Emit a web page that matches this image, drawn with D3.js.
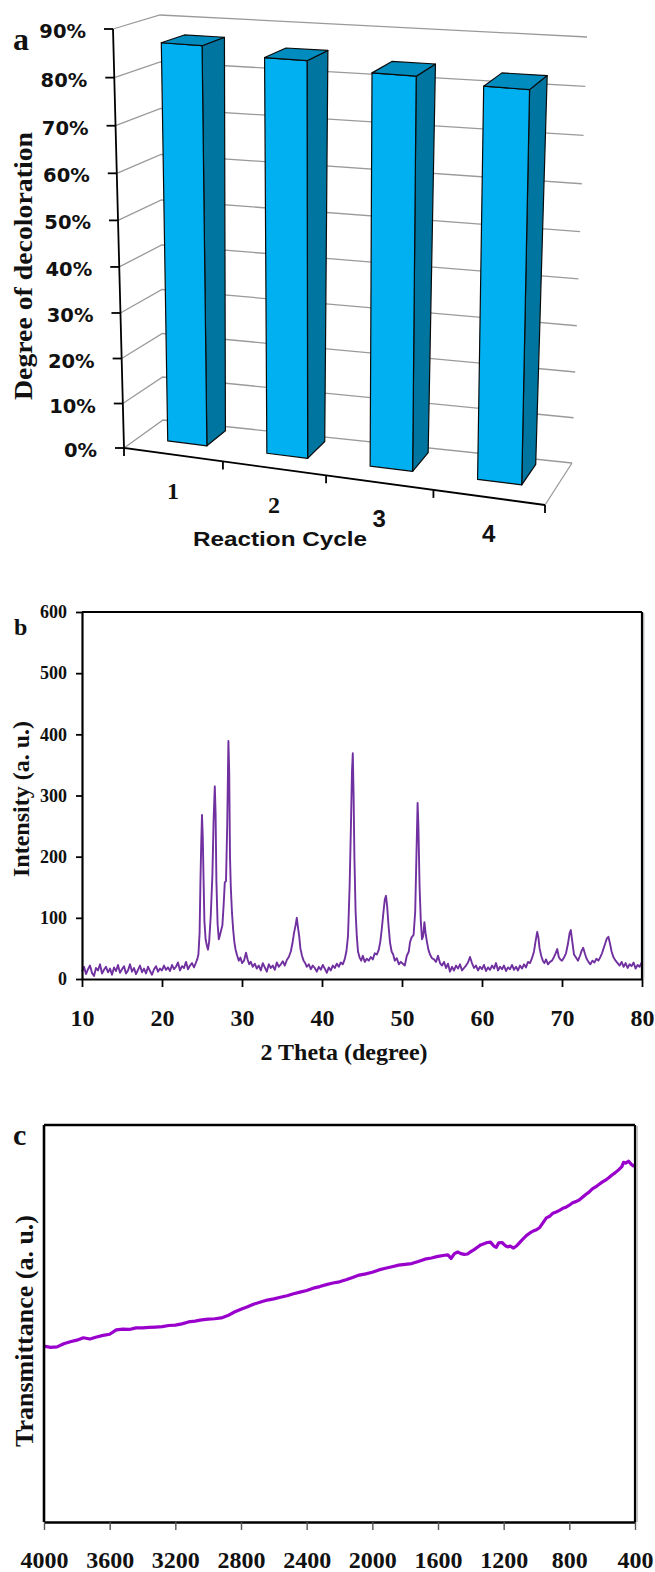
<!DOCTYPE html>
<html><head><meta charset="utf-8">
<script src="https://cdn.jsdelivr.net/npm/d3@7"></script>
<style>body{margin:0;background:#fff} svg{display:block}</style>
</head><body>
<svg id="chart" width="655" height="1572"></svg>
<script>
// ---------- DATA ----------
const cycles = ["1", "2", "3", "4"];
const decoloration = [86.5, 85, 83.5, 82.5];
const pctTicks = [0, 10, 20, 30, 40, 50, 60, 70, 80, 90];

const xrdTicksX = [10, 20, 30, 40, 50, 60, 70, 80];
const xrdTicksY = [0, 100, 200, 300, 400, 500, 600];
const xrdData = [
 [10,12],[10.25,20],[10.5,8],[10.75,16],[11,22],[11.25,10],[11.5,5],[11.75,18],[12,14],[12.25,24],
 [12.5,9],[12.75,15],[13,20],[13.25,11],[13.5,17],[13.75,7],[14,19],[14.25,13],[14.5,23],[14.75,10],
 [15,16],[15.25,21],[15.5,9],[15.75,14],[16,24],[16.25,12],[16.5,18],[16.75,8],[17,15],[17.25,22],
 [17.5,11],[17.75,17],[18,9],[18.25,20],[18.5,13],[18.75,7],[19,16],[19.25,21],[19.5,12],[19.75,17],
 [20,14],[20.25,22],[20.5,15],[20.75,19],[21,13],[21.25,23],[21.5,16],[21.75,20],[22,27],[22.25,14],
 [22.5,21],[22.75,18],[23,28],[23.25,16],[23.5,22],[23.75,26],[24,19],[24.25,27],[24.4,32],[24.55,40],
 [24.7,75],[24.8,155],[24.9,220],[25.0,268],[25.1,230],[25.2,160],[25.3,95],[25.45,65],[25.6,55],[25.75,48],
 [25.9,62],[26.1,105],[26.3,170],[26.45,260],[26.6,315],[26.7,270],[26.8,160],[26.95,90],[27.1,65],[27.25,72],
 [27.4,80],[27.55,88],[27.7,120],[27.85,158],[28.0,160],[28.15,250],[28.3,389],[28.4,340],[28.5,200],[28.6,150],
 [28.75,108],[28.9,80],[29.05,60],[29.2,48],[29.4,38],[29.6,30],[29.8,35],[30.0,26],[30.25,30],[30.5,43],
 [30.7,32],[30.9,24],[31.1,28],[31.35,20],[31.6,25],[31.85,17],[32.1,22],[32.35,14],[32.6,26],[32.85,19],
 [33.1,12],[33.35,24],[33.6,18],[33.85,22],[34.1,15],[34.35,27],[34.6,20],[34.85,24],[35.1,29],[35.35,22],
 [35.6,31],[35.85,36],[36.1,45],[36.3,58],[36.5,75],[36.7,88],[36.85,100],[37.0,84],[37.15,70],[37.3,50],
 [37.5,38],[37.7,30],[37.9,26],[38.1,20],[38.35,24],[38.6,16],[38.85,22],[39.1,18],[39.35,12],[39.6,20],
 [39.85,15],[40.1,23],[40.35,17],[40.6,10],[40.85,19],[41.1,14],[41.35,22],[41.6,18],[41.85,25],[42.1,20],
 [42.35,27],[42.6,24],[42.85,33],[43.05,45],[43.25,70],[43.45,150],[43.6,240],[43.75,340],[43.85,369],[43.95,300],
 [44.05,200],[44.2,110],[44.35,70],[44.5,45],[44.7,35],[44.9,30],[45.1,38],[45.35,28],[45.6,33],[45.85,30],
 [46.1,36],[46.35,32],[46.6,42],[46.85,40],[47.1,48],[47.3,62],[47.5,85],[47.7,112],[47.85,130],[48.0,136],
 [48.15,118],[48.3,90],[48.5,60],[48.7,45],[48.9,40],[49.1,30],[49.35,34],[49.6,24],[49.85,28],[50.1,25],
 [50.35,22],[50.6,38],[50.85,45],[51.0,60],[51.2,68],[51.45,72],[51.65,110],[51.8,200],[51.95,288],[52.05,250],
 [52.2,150],[52.35,95],[52.5,65],[52.65,70],[52.8,93],[52.95,75],[53.1,62],[53.3,48],[53.5,40],[53.75,34],
 [54.0,32],[54.25,28],[54.5,38],[54.75,26],[55.0,22],[55.25,28],[55.5,18],[55.75,25],[56.0,12],[56.25,20],
 [56.5,14],[56.75,22],[57.0,17],[57.25,24],[57.5,14],[57.75,18],[58.0,22],[58.25,27],[58.5,36],[58.75,26],
 [59.0,18],[59.25,22],[59.5,14],[59.75,20],[60.0,16],[60.25,23],[60.5,13],[60.75,19],[61.0,15],[61.25,22],
 [61.5,17],[61.75,26],[62.0,14],[62.25,20],[62.5,16],[62.75,22],[63.0,13],[63.25,19],[63.5,16],[63.75,23],
 [64.0,15],[64.25,20],[64.5,14],[64.75,22],[65.0,17],[65.25,24],[65.5,19],[65.75,28],[66.0,26],[66.25,34],
 [66.5,45],[66.7,62],[66.9,77],[67.05,68],[67.2,50],[67.4,38],[67.6,30],[67.8,26],[68.0,32],[68.25,24],
 [68.5,28],[68.75,30],[69.0,36],[69.2,42],[69.4,49],[69.6,36],[69.8,32],[70.0,30],[70.25,35],[70.5,42],
 [70.75,58],[70.95,75],[71.1,80],[71.3,60],[71.5,40],[71.75,35],[72.0,30],[72.25,38],[72.45,46],[72.65,51],
 [72.85,42],[73.05,34],[73.3,28],[73.55,24],[73.8,30],[74.05,27],[74.3,33],[74.55,30],[74.8,36],[75.0,42],
 [75.2,50],[75.4,58],[75.6,66],[75.8,69],[76.0,58],[76.2,45],[76.45,35],[76.7,30],[76.95,26],[77.2,22],
 [77.45,28],[77.7,20],[77.95,26],[78.2,18],[78.45,24],[78.7,21],[78.95,27],[79.2,17],[79.45,23],[79.7,20],
 [80.0,28]
];

const ftirTicks = [4000, 3600, 3200, 2800, 2400, 2000, 1600, 1200, 800, 400];
const ftirData = [
 [4000,44.3],[3960,44.0],[3920,44.1],[3880,44.9],[3840,45.4],[3800,45.8],[3760,46.4],[3720,46.1],[3680,46.6],[3640,47.0],
 [3600,47.3],[3560,48.4],[3520,48.6],[3480,48.5],[3440,48.9],[3400,48.9],[3360,49.0],[3320,49.1],[3280,49.2],[3240,49.5],
 [3200,49.6],[3160,49.9],[3120,50.4],[3080,50.6],[3040,50.9],[3000,51.1],[2960,51.2],[2920,51.4],[2880,52.0],[2840,52.9],
 [2800,53.6],[2760,54.2],[2720,54.9],[2680,55.4],[2640,55.9],[2600,56.2],[2560,56.6],[2520,57.0],[2480,57.5],[2440,57.9],
 [2400,58.3],[2360,58.9],[2320,59.3],[2280,59.8],[2240,60.2],[2200,60.5],[2160,61.0],[2120,61.6],[2080,62.2],[2040,62.5],
 [2000,62.9],[1960,63.5],[1920,63.9],[1880,64.3],[1840,64.7],[1800,64.9],[1760,65.1],[1720,65.6],[1680,66.2],[1640,66.5],
 [1600,66.9],[1560,67.2],[1540,67.3],[1520,66.4],[1500,67.6],[1480,68.0],[1460,67.6],[1440,67.4],[1420,67.5],[1400,68.1],
 [1380,68.6],[1360,69.2],[1340,69.8],[1320,70.1],[1300,70.4],[1280,70.5],[1260,69.5],[1245,69.2],[1230,70.3],[1210,70.4],
 [1190,69.6],[1175,69.3],[1160,69.5],[1140,69.0],[1120,69.6],[1100,70.5],[1080,71.4],[1060,72.2],[1040,72.8],[1020,73.3],
 [1000,73.6],[980,74.2],[960,75.4],[940,76.6],[920,77.0],[900,77.8],[880,78.1],[860,78.5],[840,79.0],[820,79.3],
 [800,79.8],[780,80.4],[760,80.7],[740,81.1],[720,81.8],[700,82.5],[680,83.1],[660,83.9],[640,84.4],[620,85.0],
 [600,85.6],[580,86.1],[560,86.7],[540,87.4],[520,88.0],[500,88.7],[480,89.5],[470,90.6],[455,90.4],[440,90.9],
 [425,90.2],[410,89.7],[400,90.0]
];

// ---------- DRAW ----------
const svg = d3.select("#chart");
svg.append("rect").attr("width", 655).attr("height", 1572).attr("fill", "#fff");
const serif = "'Liberation Serif','Times New Roman',serif";
const sans = "'Liberation Sans',Arial,sans-serif";
const dejavu = "'DejaVu Sans',Verdana,sans-serif";

// ===== Panel a : pseudo-3D column chart =====
const ga = svg.append("g");
const uScale = d3.scaleBand().domain(cycles).range([0, 1]).paddingInner(0.6).paddingOuter(0.3);
const vScale = d3.scaleLinear().domain([0, 90]).range([0, 1]);
const warpU = u => u - 0.08 * u * (1 - u);
const warpV = v => v - 0.05 * v * (1 - v);
const C = {F00:[124,448], F01:[113,29], F10:[545,505], F11:[552,65],
           B00:[163,420], B01:[160,15], B10:[572,463], B11:[587,37]};
const lerp = (a, b, t) => [a[0] + (b[0] - a[0]) * t, a[1] + (b[1] - a[1]) * t];
function P(u, val, w) {
  const uu = warpU(u), vv = warpV(vScale(val));
  const f = lerp(lerp(C.F00, C.F10, uu), lerp(C.F01, C.F11, uu), vv);
  const b = lerp(lerp(C.B00, C.B10, uu), lerp(C.B01, C.B11, uu), vv);
  return lerp(f, b, w);
}
const line = d3.line();
pctTicks.forEach(v => {
  ga.append("path").attr("d", line([P(0, v, 0), P(0, v, 1), P(1, v, 1)]))
    .attr("fill", "none").attr("stroke", "#9a9a9a").attr("stroke-width", 1.3);
});
ga.append("path").attr("d", line([P(1, 0, 0), P(1, 0, 1)]))
  .attr("fill", "none").attr("stroke", "#9a9a9a").attr("stroke-width", 1.3);
ga.append("path").attr("d", line([P(0, 90, 0), P(0, 0, 0), P(1, 0, 0)]))
  .attr("fill", "none").attr("stroke", "#000").attr("stroke-width", 1.8);
pctTicks.forEach(v => {
  const p = P(0, v, 0);
  ga.append("line").attr("x1", p[0] - 9).attr("y1", p[1]).attr("x2", p[0]).attr("y2", p[1])
    .attr("stroke", "#000").attr("stroke-width", 1.8);
  ga.append("text").attr("x", p[0] - 27).attr("y", p[1] + 2).attr("dy", "0.36em")
    .attr("text-anchor", "end").attr("font-family", dejavu).attr("font-weight", "bold")
    .attr("font-size", 19.5).attr("fill", "#111").text(v + "%");
});
[0, 0.25, 0.5, 0.75, 1].forEach(u => {
  const p = P(u, 0, 0);
  ga.append("line").attr("x1", p[0]).attr("y1", p[1]).attr("x2", p[0]).attr("y2", p[1] + 8)
    .attr("stroke", "#000").attr("stroke-width", 1.8);
});
const w0 = 0.38, w1 = 0.88;
cycles.forEach((c, i) => {
  const u0 = uScale(c), u1 = u0 + uScale.bandwidth(), v = decoloration[i];
  const side = [P(u1, 0, w0), P(u1, 0, w1), P(u1, v, w1), P(u1, v, w0)];
  const front = [P(u0, 0, w0), P(u1, 0, w0), P(u1, v, w0), P(u0, v, w0)];
  const top = [P(u0, v, w0), P(u1, v, w0), P(u1, v, w1), P(u0, v, w1)];
  [[side, "#00759f"], [front, "#00b0f0"], [top, "#008cbf"]].forEach(([pts, col]) => {
    ga.append("path").attr("d", line(pts) + "Z").attr("fill", col)
      .attr("stroke", "#0a0a0a").attr("stroke-width", 1.2).attr("stroke-linejoin", "round");
  });
  const pc = P(u0 + uScale.bandwidth() / 2, 0, 0);
  ga.append("text").attr("x", pc[0]).attr("y", pc[1] + 36).attr("dy", "0.35em")
    .attr("text-anchor", "middle").attr("font-family", i < 2 ? serif : sans)
    .attr("font-weight", "bold").attr("font-size", 24).attr("fill", "#111").text(c);
});
ga.append("text").attr("x", 280).attr("y", 539).attr("dy", "0.35em").attr("text-anchor", "middle")
  .attr("font-family", sans).attr("font-weight", "bold").attr("font-size", 21)
  .attr("textLength", 174).attr("lengthAdjust", "spacingAndGlyphs").attr("fill", "#111").text("Reaction Cycle");
ga.append("text").attr("transform", "translate(32,266) rotate(-90)").attr("text-anchor", "middle")
  .attr("font-family", serif).attr("font-weight", "bold").attr("font-size", 26).attr("fill", "#111")
  .attr("textLength", 268).attr("lengthAdjust", "spacingAndGlyphs")
  .text("Degree of decoloration");
ga.append("text").attr("x", 13).attr("y", 50).attr("font-family", serif).attr("font-weight", "bold")
  .attr("font-size", 32).attr("fill", "#111").text("a");

// ===== Panel b : XRD =====
const gb = svg.append("g");
const xB = d3.scaleLinear().domain([10, 80]).range([82, 642]);
const yB = d3.scaleLinear().domain([0, 600]).range([979, 612]);
gb.append("path").attr("d", d3.line().x(d => xB(d[0])).y(d => yB(d[1]))(xrdData))
  .attr("fill", "none").attr("stroke", "#7030a0").attr("stroke-width", 1.9).attr("stroke-linejoin", "round");
gb.append("line").attr("x1", 82).attr("y1", 612).attr("x2", 642).attr("y2", 612).attr("stroke", "#000").attr("stroke-width", 2.2);
gb.append("line").attr("x1", 642).attr("y1", 612).attr("x2", 642).attr("y2", 979).attr("stroke", "#000").attr("stroke-width", 2.2);
gb.append("line").attr("x1", 643.8).attr("y1", 613).attr("x2", 643.8).attr("y2", 979).attr("stroke", "#9a9a9a").attr("stroke-width", 1);
const axBx = gb.append("g").attr("transform", "translate(0,979)")
  .call(d3.axisBottom(xB).tickValues(xrdTicksX).tickFormat(d3.format("d")).tickSizeInner(8).tickSizeOuter(0).tickPadding(22));
const axBy = gb.append("g").attr("transform", "translate(82,0)")
  .call(d3.axisLeft(yB).tickValues(xrdTicksY).tickFormat(d3.format("d")).tickSizeInner(6).tickSizeOuter(0).tickPadding(9));
[axBx, axBy].forEach(a => {
  a.select(".domain").attr("stroke", "#000").attr("stroke-width", 2.2);
  a.selectAll(".tick line").attr("stroke", "#000").attr("stroke-width", 1.8);
  a.selectAll("text").attr("font-family", serif).attr("font-weight", "bold").attr("fill", "#111");
});
axBx.selectAll("text").attr("font-size", 24);
axBy.selectAll("text").attr("font-size", 18);
gb.append("text").attr("x", 344).attr("y", 1060).attr("text-anchor", "middle").attr("font-family", serif)
  .attr("font-weight", "bold").attr("font-size", 24).attr("fill", "#111").text("2 Theta (degree)");
gb.append("text").attr("transform", "translate(29,799) rotate(-90)").attr("text-anchor", "middle")
  .attr("font-family", serif).attr("font-weight", "bold").attr("font-size", 24).attr("fill", "#111")
  .text("Intensity (a. u.)");
gb.append("text").attr("x", 14).attr("y", 635).attr("font-family", serif).attr("font-weight", "bold")
  .attr("font-size", 24).attr("fill", "#111").text("b");

// ===== Panel c : FTIR =====
const gc = svg.append("g");
const xC = d3.scaleLinear().domain([4000, 400]).range([44, 635]);
const yC = d3.scaleLinear().domain([0, 100]).range([1522, 1125]);
gc.append("path").attr("d", d3.line().x(d => xC(d[0])).y(d => yC(d[1]))(ftirData))
  .attr("fill", "none").attr("stroke", "#9900cc").attr("stroke-width", 3.2).attr("stroke-linejoin", "round");
gc.append("line").attr("x1", 44).attr("y1", 1125).attr("x2", 635).attr("y2", 1125).attr("stroke", "#000").attr("stroke-width", 2.6);
gc.append("line").attr("x1", 44).attr("y1", 1125).attr("x2", 44).attr("y2", 1522).attr("stroke", "#000").attr("stroke-width", 2.6);
gc.append("line").attr("x1", 635).attr("y1", 1125).attr("x2", 635).attr("y2", 1522).attr("stroke", "#000").attr("stroke-width", 2.2);
gc.append("line").attr("x1", 637).attr("y1", 1126).attr("x2", 637).attr("y2", 1522).attr("stroke", "#9a9a9a").attr("stroke-width", 1.2);
const axCx = gc.append("g").attr("transform", "translate(0,1522)")
  .call(d3.axisBottom(xC).tickValues(ftirTicks).tickFormat(d3.format("d")).tickSizeInner(8).tickSizeOuter(0).tickPadding(21));
axCx.select(".domain").attr("stroke", "#000").attr("stroke-width", 2.6);
axCx.selectAll(".tick line").attr("stroke", "#555").attr("stroke-width", 1.4);
axCx.selectAll("text").attr("font-family", serif).attr("font-weight", "bold").attr("font-size", 24).attr("fill", "#111");
gc.append("text").attr("transform", "translate(33,1331) rotate(-90)").attr("text-anchor", "middle")
  .attr("font-family", serif).attr("font-weight", "bold").attr("font-size", 26).attr("fill", "#111")
  .text("Transmittance (a. u.)");
gc.append("text").attr("x", 13).attr("y", 1145).attr("font-family", serif).attr("font-weight", "bold")
  .attr("font-size", 30).attr("fill", "#111").text("c");
</script>
</body></html>
